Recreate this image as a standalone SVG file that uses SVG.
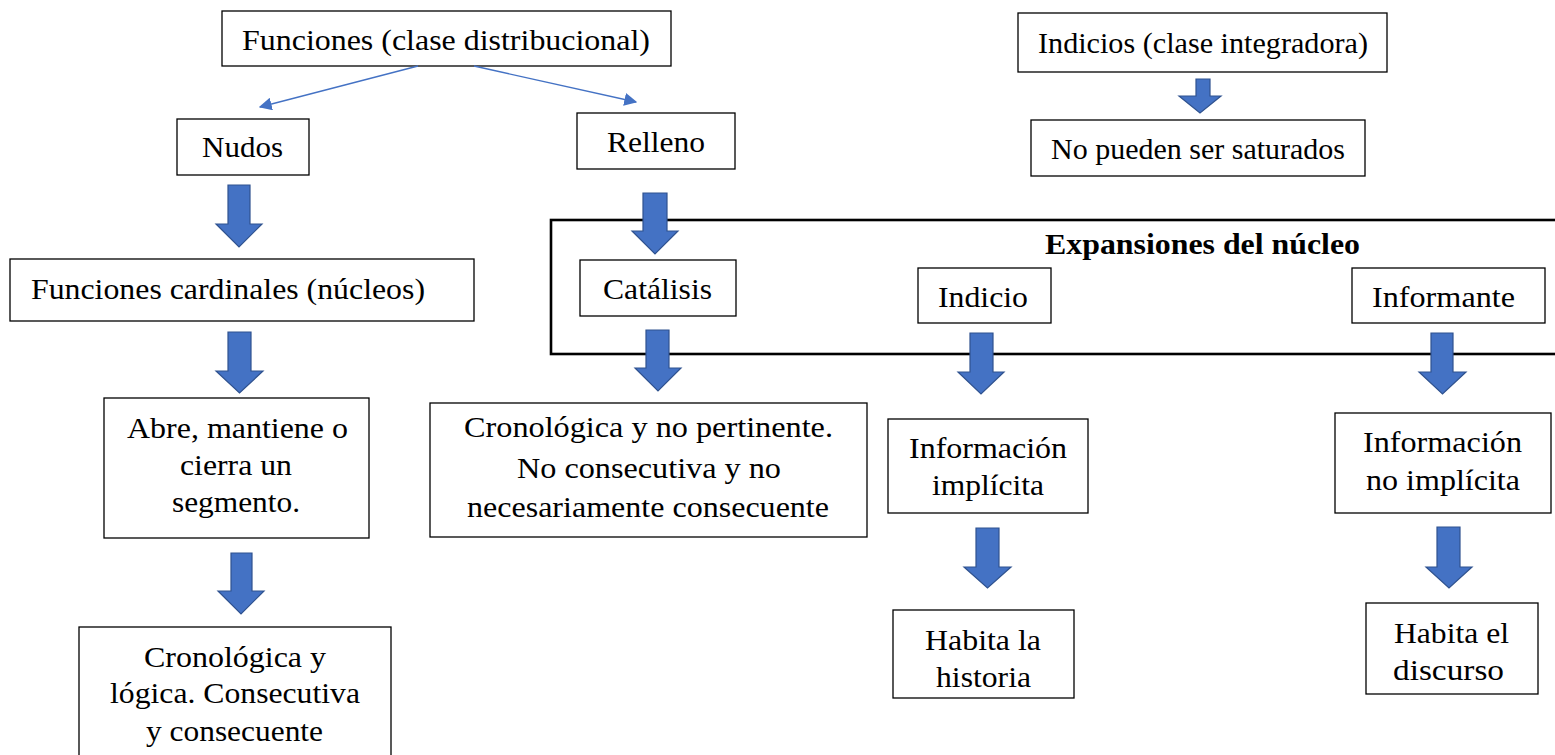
<svg xmlns="http://www.w3.org/2000/svg" width="1555" height="755" viewBox="0 0 1555 755">
<style>
.box{fill:#fff;stroke:#000;stroke-width:1.3}
.frame{fill:none;stroke:#000;stroke-width:2.6}
.t{font-family:"Liberation Serif","Times New Roman",serif;font-size:29px;fill:#000}
.b{font-weight:bold}
.blk{fill:#4472C4;stroke:#2F528F;stroke-width:1.2}
.ln{stroke:#4472C4;stroke-width:1.3;fill:none}
</style>
<defs>
<marker id="ah" viewBox="0 0 10 10" refX="9" refY="5" markerWidth="13" markerHeight="13" markerUnits="userSpaceOnUse" orient="auto">
<path d="M0,0 L10,5 L0,10 z" fill="#4472C4"/>
</marker>
</defs>
<rect class="frame" x="551" y="220" width="1030" height="134"/>
<g id="n-funciones"><rect class="box" x="222" y="11" width="449" height="55"/><text class="t" x="242" y="50" textLength="408" lengthAdjust="spacingAndGlyphs">Funciones (clase distribucional)</text></g>
<g id="n-nudos"><rect class="box" x="177" y="119" width="132" height="56"/><text class="t" x="202" y="157" textLength="81" lengthAdjust="spacingAndGlyphs">Nudos</text></g>
<g id="n-relleno"><rect class="box" x="577" y="113" width="158" height="56"/><text class="t" x="607" y="152" textLength="98" lengthAdjust="spacingAndGlyphs">Relleno</text></g>
<g id="n-indicios"><rect class="box" x="1018" y="13" width="369" height="59"/><text class="t" x="1038" y="53" textLength="330" lengthAdjust="spacingAndGlyphs">Indicios (clase integradora)</text></g>
<g id="n-nopueden"><rect class="box" x="1031" y="120" width="334" height="56"/><text class="t" x="1051" y="159" textLength="294" lengthAdjust="spacingAndGlyphs">No pueden ser saturados</text></g>
<g id="n-cardinales"><rect class="box" x="10" y="259" width="464" height="62"/><text class="t" x="31" y="299" textLength="394" lengthAdjust="spacingAndGlyphs">Funciones cardinales (núcleos)</text></g>
<g id="n-catalisis"><rect class="box" x="580" y="260" width="156" height="56"/><text class="t" x="603" y="299" textLength="109" lengthAdjust="spacingAndGlyphs">Catálisis</text></g>
<g id="n-expansiones"><text class="t b" x="1045" y="254" textLength="315" lengthAdjust="spacingAndGlyphs">Expansiones del núcleo</text></g>
<g id="n-indicio"><rect class="box" x="918" y="268" width="133" height="55"/><text class="t" x="938" y="307" textLength="90" lengthAdjust="spacingAndGlyphs">Indicio</text></g>
<g id="n-informante"><rect class="box" x="1352" y="268" width="193" height="55"/><text class="t" x="1372" y="307" textLength="143" lengthAdjust="spacingAndGlyphs">Informante</text></g>
<g id="n-abre"><rect class="box" x="104" y="398" width="265" height="140"/>
<text class="t" x="127" y="438" textLength="221" lengthAdjust="spacingAndGlyphs">Abre, mantiene o</text>
<text class="t" x="180" y="475" textLength="112" lengthAdjust="spacingAndGlyphs">cierra un</text>
<text class="t" x="172" y="512" textLength="128" lengthAdjust="spacingAndGlyphs">segmento.</text></g>
<g id="n-cronlogica"><rect class="box" x="79" y="627" width="312" height="140"/>
<text class="t" x="144" y="667" textLength="182" lengthAdjust="spacingAndGlyphs">Cronológica y</text>
<text class="t" x="110" y="703" textLength="250" lengthAdjust="spacingAndGlyphs">lógica. Consecutiva</text>
<text class="t" x="146" y="741" textLength="177" lengthAdjust="spacingAndGlyphs">y consecuente</text></g>
<g id="n-cronpert"><rect class="box" x="430" y="403" width="437" height="134"/>
<text class="t" x="464" y="437" textLength="369" lengthAdjust="spacingAndGlyphs">Cronológica y no pertinente.</text>
<text class="t" x="517" y="478" textLength="264" lengthAdjust="spacingAndGlyphs">No consecutiva y no</text>
<text class="t" x="467" y="517" textLength="362" lengthAdjust="spacingAndGlyphs">necesariamente consecuente</text></g>
<g id="n-infimp"><rect class="box" x="888" y="419" width="200" height="94"/>
<text class="t" x="909" y="458" textLength="158" lengthAdjust="spacingAndGlyphs">Información</text>
<text class="t" x="932" y="495" textLength="112" lengthAdjust="spacingAndGlyphs">implícita</text></g>
<g id="n-infnoimp"><rect class="box" x="1335" y="413" width="216" height="100"/>
<text class="t" x="1363" y="452" textLength="159" lengthAdjust="spacingAndGlyphs">Información</text>
<text class="t" x="1366" y="490" textLength="154" lengthAdjust="spacingAndGlyphs">no implícita</text></g>
<g id="n-historia"><rect class="box" x="893" y="610" width="181" height="88"/>
<text class="t" x="925" y="650" textLength="116" lengthAdjust="spacingAndGlyphs">Habita la</text>
<text class="t" x="936" y="687" textLength="95" lengthAdjust="spacingAndGlyphs">historia</text></g>
<g id="n-discurso"><rect class="box" x="1366" y="603" width="172" height="91"/>
<text class="t" x="1394" y="643" textLength="115" lengthAdjust="spacingAndGlyphs">Habita el</text>
<text class="t" x="1393" y="680" textLength="111" lengthAdjust="spacingAndGlyphs">discurso</text></g>
<g id="connectors">
<line class="ln" x1="418" y1="66" x2="260" y2="107" marker-end="url(#ah)"/>
<line class="ln" x1="474" y1="66" x2="636" y2="102" marker-end="url(#ah)"/>
<polygon class="blk" points="228,185 250,185 250,224 262,224 239,247 216,224 228,224"/>
<polygon class="blk" points="228,332 251,332 251,371 263,371 239.5,393 216,371 228,371"/>
<polygon class="blk" points="231,553 252,553 252,591 264,591 241,614 218,591 231,591"/>
<polygon class="blk" points="643,193 667,193 667,231 678,231 655,254 632,231 643,231"/>
<polygon class="blk" points="646,330 669,330 669,368 681,368 658,391 635,368 646,368"/>
<polygon class="blk" points="970,333 993,333 993,372 1004,372 981,394 958,372 970,372"/>
<polygon class="blk" points="976,528 999,528 999,567 1011,567 987.5,588 964,567 976,567"/>
<polygon class="blk" points="1431,333 1453,333 1453,372 1466,372 1442.5,394 1419,372 1431,372"/>
<polygon class="blk" points="1437,527 1460,527 1460,567 1472,567 1449,588 1426,567 1437,567"/>
<polygon class="blk" points="1196,79 1210,79 1210,96 1221,96 1200,113 1179,96 1196,96"/>
</g>
</svg>
